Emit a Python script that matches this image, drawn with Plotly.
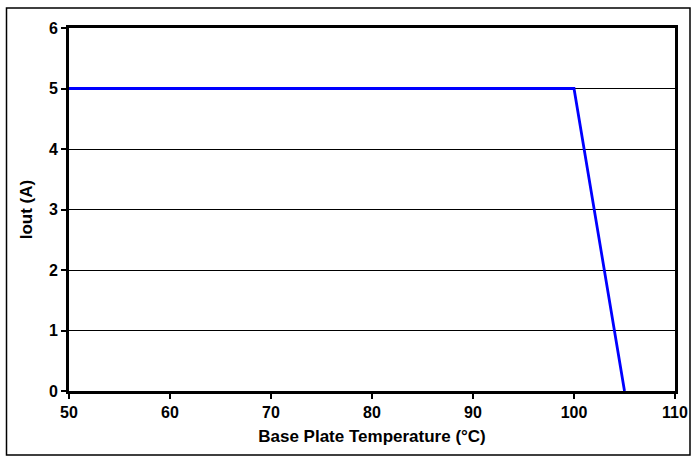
import plotly.graph_objects as go

temp_c = [50, 100, 105]
iout_a = [5, 5, 0]
x_ticks = [50, 60, 70, 80, 90, 100, 110]
y_ticks = [0, 1, 2, 3, 4, 5, 6]

fig = go.Figure()
fig.add_trace(go.Scatter(x=temp_c, y=iout_a, mode="lines",
                         line=dict(color="#0000FF", width=2.8), showlegend=False))

font = dict(family="Arial, Liberation Sans, sans-serif", size=16, color="black")
fig.update_layout(
    width=691, height=456,
    margin=dict(l=69, r=16, t=28, b=65, autoexpand=False),
    paper_bgcolor="white", plot_bgcolor="white",
    font=font,
    xaxis=dict(range=[50, 110], tickvals=x_ticks, ticktext=[f"<b>{v}</b>" for v in x_ticks],
               automargin=False,
               showgrid=False, zeroline=False, showline=True, linecolor="black", linewidth=3,
               mirror=True, ticks="outside", ticklen=5, tickwidth=2, tickcolor="black",
               title=dict(text="<b>Base Plate Temperature (°C)</b>", font=dict(size=17), standoff=10)),
    yaxis=dict(range=[0, 6], tickvals=y_ticks, ticktext=[f"<b>{v}</b>" for v in y_ticks],
               automargin=False,
               showgrid=True, gridcolor="black", gridwidth=1.2, zeroline=False,
               showline=True, linecolor="black", linewidth=3, mirror=True,
               ticks="outside", ticklen=5, tickwidth=2, tickcolor="black",
               title=dict(text="<b>Iout (A)</b>", font=dict(size=17), standoff=12)),
)
fig.add_shape(type="rect", xref="paper", yref="paper",
              x0=(6.5 - 69) / 606, x1=(690 - 69) / 606,
              y0=(391 - 455) / 363, y1=(391 - 8) / 363,
              line=dict(color="black", width=1.5), layer="below")
fig.write_html("out.html", config={"displayModeBar": False},
               post_script="document.body.style.margin='0';")
